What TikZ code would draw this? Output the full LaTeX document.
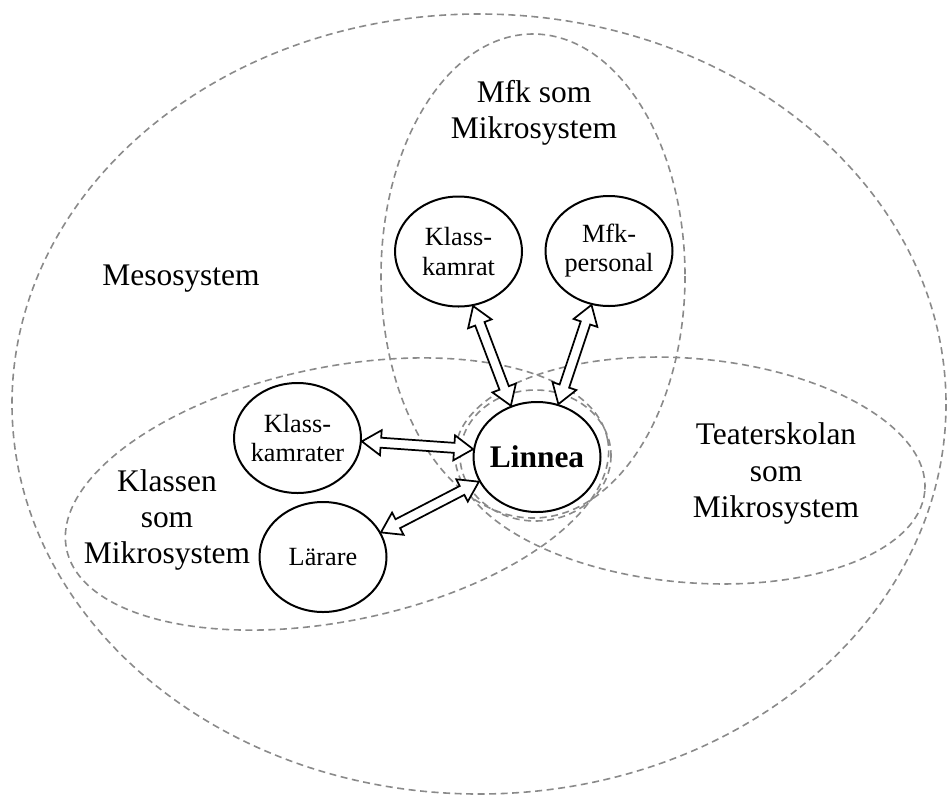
\documentclass[tikz,border=0pt]{standalone}
\usepackage{fontspec}
\setmainfont{Liberation Serif}
\usetikzlibrary{calc,shapes.geometric}

\definecolor{zonegray}{RGB}{138,138,138}

% block arrow geometry (pt): head length, half head width, half shaft width
\def\twahl{14.25}
\def\twahw{9.4}
\def\twasw{3.75}

% hollow two-headed block arrow between two points
\newcommand\twowayarrow[2]{%
  \path let \p1=(#1), \p2=(#2) in \pgfextra{%
    \pgfmathsetmacro\twaang{atan2(\y2-\y1,\x2-\x1)}%
    \pgfmathsetmacro\twalen{veclen(\x2-\x1,\y2-\y1)}%
    \xdef\twaang{\twaang}\xdef\twalen{\twalen}};
  \pgfmathsetmacro\twab{\twalen-\twahl}%
  \draw[linkarrow, shift={(#1)}, rotate=\twaang]
    (0pt,0pt) -- (\twahl pt,\twahw pt) -- (\twahl pt,\twasw pt)
    -- (\twab pt,\twasw pt) -- (\twab pt,\twahw pt) -- (\twalen pt,0pt)
    -- (\twab pt,-\twahw pt) -- (\twab pt,-\twasw pt)
    -- (\twahl pt,-\twasw pt) -- (\twahl pt,-\twahw pt) -- cycle;
}

\tikzset{
  zone/.style={draw=zonegray, line width=1.2pt, dash pattern=on 5.25pt off 3.4pt},
  person/.style={draw=black, fill=white, line width=1.5pt, ellipse,
    minimum width=95.25pt, minimum height=82.5pt, inner xsep=-3pt, inner ysep=0pt,
    align=center, font=\fontsize{19.7pt}{21.8pt}\selectfont},
  zonelabel/.style={align=center, inner sep=0pt, font=\fontsize{23.6pt}{27.2pt}\selectfont},
  linkarrow/.style={draw=black, fill=white, line width=1.3pt, line join=miter},
}

\begin{document}
\begin{tikzpicture}[x=0.75pt, y=-0.75pt]
\useasboundingbox (0,0) rectangle (948,796);

% system boundaries
\draw[zone] (479,404) ellipse [x radius=467, y radius=390];
\draw[zone] (533,276) ellipse [x radius=152, y radius=242];
\draw[zone, rotate around={11.5:(337,494)}] (337,494) ellipse [x radius=276, y radius=127];
\draw[zone, rotate around={-5:(690,470.5)}] (690,470.5) ellipse [x radius=235.7, y radius=112];
\draw[zone] (535.5,455.5) ellipse [x radius=75.5, y radius=65.5];

% system names
\node[zonelabel, anchor=base] (meso) at (181,285) {Mesosystem};
\node[zonelabel] (mfk) at (534,112.7) {Mfk som\\Mikrosystem};
\node[zonelabel] (teater) at (776,473.7) {Teaterskolan\\som\\Mikrosystem};
\node[zonelabel] (klassen) at (167,520) {Klassen\\som\\Mikrosystem};

% people
\node[person] (kk) at (458.5,251.5) {Klass-\\kamrat};
\node[person] (mp) at (609,251) {Mfk-\\personal};
\node[person] (ks) at (297.5,438) {Klass-\\kamrater};
\node[person] (la) at (323,557) {Lärare};
\node[person, font=\fontsize{23.6pt}{27pt}\selectfont\bfseries] (li) at (537,457) {Linnea};

% relations
\twowayarrow{kk.-75}{li.117}
\twowayarrow{mp.-108}{li.68}
\twowayarrow{ks.-3}{li.173}
\twowayarrow{la.23}{li.-157}

\end{tikzpicture}
\end{document}
